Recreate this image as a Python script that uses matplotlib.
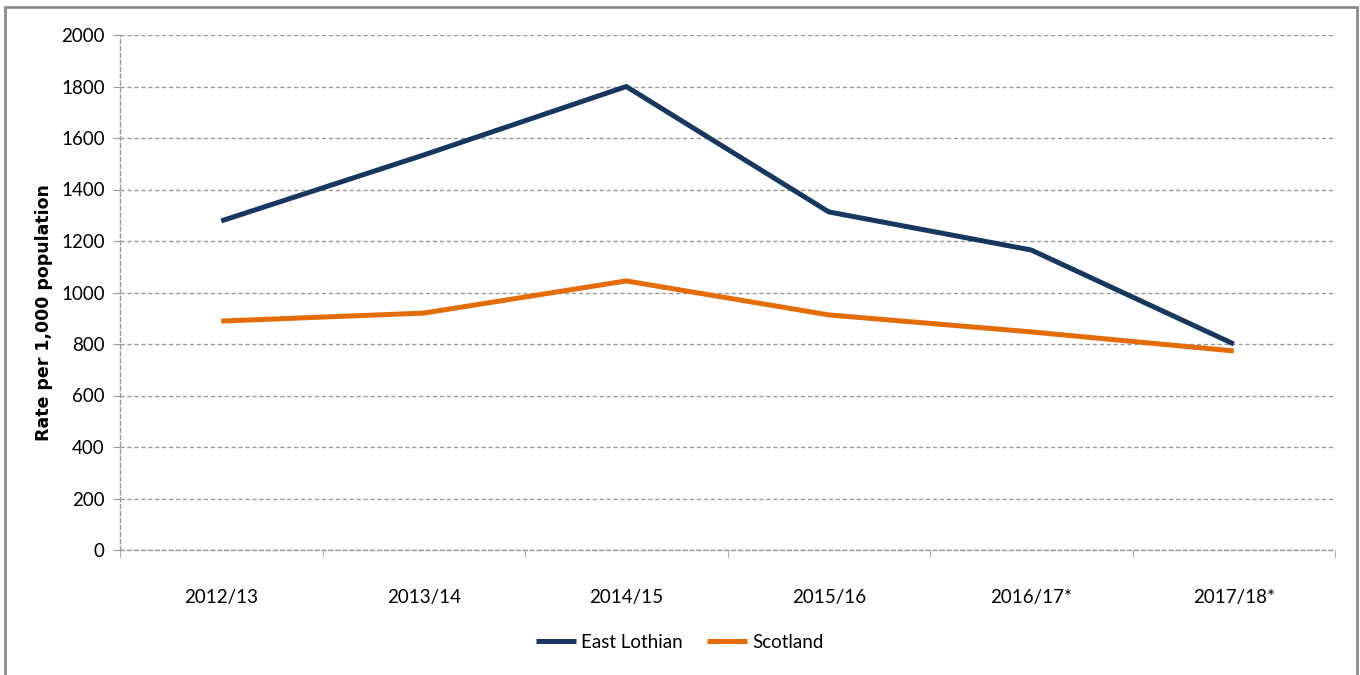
import matplotlib.pyplot as plt
from matplotlib.patches import Rectangle
import numpy as np

# Rate per 1,000 population, by financial year
years = ['2012/13', '2013/14', '2014/15', '2015/16', '2016/17*', '2017/18*']
east_lothian = [1278, 1534, 1800, 1313, 1165, 800]
scotland = [889, 920, 1045, 913, 847, 773]

navy = '#17375E'
orange = '#E36C09'
grid_col = '#9A9A9A'

plt.rcParams['font.family'] = ['Lato', 'DejaVu Sans']

fig = plt.figure(figsize=(13.6, 6.75), dpi=100)
ax = fig.add_axes([120 / 1360, 1 - 550 / 675, 1215 / 1360, 515 / 675])

x = np.arange(len(years))
ax.plot(x, east_lothian, color=navy, linewidth=3.6, label='East Lothian', solid_capstyle='butt')
ax.plot(x, scotland, color=orange, linewidth=3.6, label='Scotland', solid_capstyle='butt')

ax.set_xlim(-0.5, len(years) - 0.5)
ax.set_ylim(0, 2000)
ax.set_yticks(range(0, 2001, 200))
ax.set_xticks(x)
ax.set_xticklabels(years)
ax.set_xticks(np.arange(-0.5, len(years)), minor=True)
ax.tick_params(axis='x', which='major', length=0, pad=28, labelsize=13.5)
ax.tick_params(axis='x', which='minor', length=5, color=grid_col, direction='out')
ax.tick_params(axis='y', length=5, color=grid_col, labelsize=13.5, pad=6)

# dashed horizontal gridlines and dashed axis lines
ax.grid(axis='y', color=grid_col, linestyle=(0, (3, 2)), linewidth=1)
ax.set_axisbelow(True)
for side in ['top', 'right']:
    ax.spines[side].set_visible(False)
for side in ['left', 'bottom']:
    ax.spines[side].set_color(grid_col)
    ax.spines[side].set_linestyle((0, (3, 2)))
    ax.spines[side].set_linewidth(1)

ax.set_ylabel('Rate per 1,000 population', fontsize=12.5, fontweight='bold',
              family='DejaVu Sans')
ax.yaxis.set_label_coords(-0.055, 0.462)

leg = ax.legend(loc='center', bbox_to_anchor=(0.5, (675 - 642) / 675),
                bbox_transform=fig.transFigure, ncol=2, frameon=False,
                fontsize=13.5, handlelength=2.1, columnspacing=1.3, handletextpad=0.3)

# grey frame round the whole chart
fig.patches.append(Rectangle((5 / 1360, -0.02), 1352 / 1360, 1 - 7 / 675 + 0.02,
                             transform=fig.transFigure, fill=False,
                             edgecolor='#8C8C8C', linewidth=2))

fig.savefig('out.png', dpi=100)
